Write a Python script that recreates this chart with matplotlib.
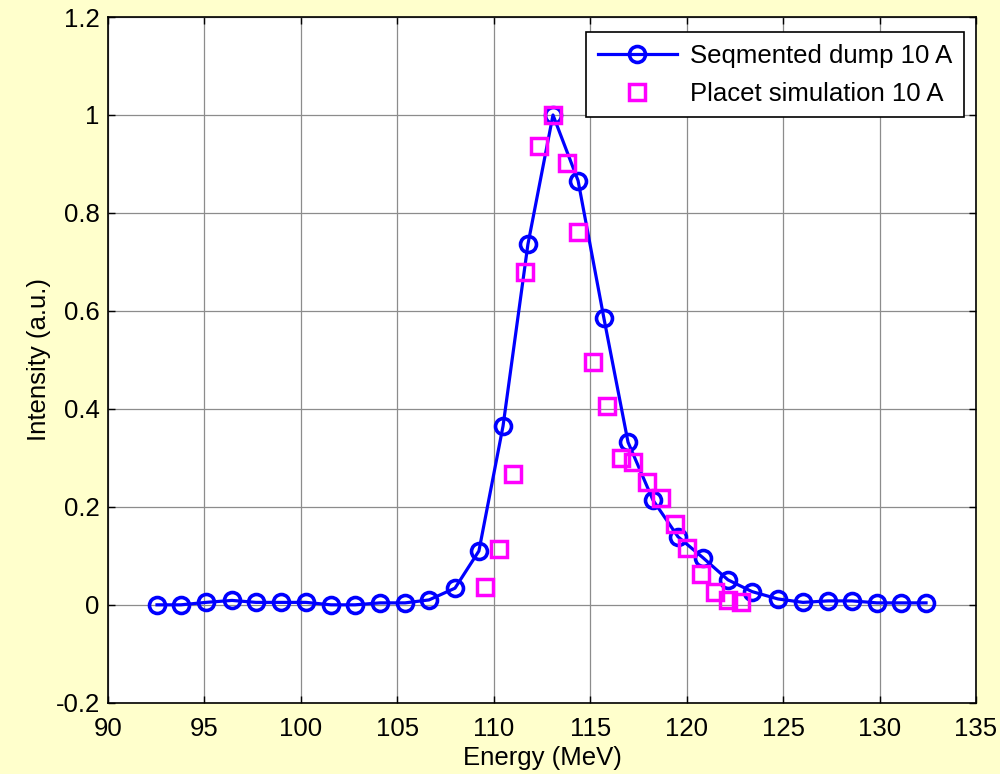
import matplotlib
matplotlib.use('Agg')
import matplotlib.pyplot as plt

plt.rcParams['font.family'] = ['Liberation Sans', 'DejaVu Sans']

# measured spectrum (segmented dump)
dump_energy = [92.54, 93.78, 95.08, 96.43, 97.67, 98.97, 100.26, 101.56, 102.80, 104.10,
               105.40, 106.64, 107.99, 109.23, 110.48, 111.77, 113.07, 114.37, 115.71, 116.96,
               118.25, 119.55, 120.85, 122.14, 123.39, 124.73, 126.03, 127.33, 128.57, 129.87,
               131.11, 132.41]
dump_intensity = [0.0, 0.0, 0.005, 0.009, 0.005, 0.005, 0.005, 0.0, 0.0, 0.004,
                  0.004, 0.01, 0.034, 0.11, 0.365, 0.736, 1.0, 0.866, 0.585, 0.332,
                  0.214, 0.139, 0.096, 0.051, 0.027, 0.012, 0.005, 0.008, 0.008, 0.004,
                  0.004, 0.004]

# simulated spectrum (Placet)
sim_energy = [109.54, 110.27, 111.0, 111.62, 112.34, 113.09, 113.78, 114.38, 115.13, 115.85,
              116.58, 117.2, 117.93, 118.65, 119.39, 120.0, 120.73, 121.47, 122.13, 122.8]
sim_intensity = [0.037, 0.114, 0.267, 0.68, 0.937, 1.0, 0.901, 0.762, 0.495, 0.406,
                 0.299, 0.292, 0.25, 0.218, 0.165, 0.116, 0.063, 0.026, 0.01, 0.005]

xticks = [90, 95, 100, 105, 110, 115, 120, 125, 130, 135]
yticks = [-0.2, 0, 0.2, 0.4, 0.6, 0.8, 1, 1.2]
ytick_labels = ['-0.2', '0', '0.2', '0.4', '0.6', '0.8', '1', '1.2']

bg = '#ffffcc'
fs = 18.5
fig = plt.figure(figsize=(10, 7.74), dpi=100, facecolor=bg)
ax = fig.add_axes([0.108, 0.092, 0.868, 0.886])

ax.plot(dump_energy, dump_intensity, '-o', color='#0000ff', lw=2.3, ms=11.5,
        mew=2.6, mfc='none', label='Seqmented dump 10 A', zorder=3)
ax.plot(sim_energy, sim_intensity, 's', color='#ff00ff', ms=11, mew=2.5,
        mfc='none', label='Placet simulation 10 A', zorder=4)

ax.set_xlim(90, 135)
ax.set_ylim(-0.2, 1.2)
ax.set_xticks(xticks)
ax.set_yticks(yticks)
ax.set_yticklabels(ytick_labels)
ax.grid(True, color='#8c8c8c', lw=0.9)
ax.set_axisbelow(True)
ax.tick_params(direction='in', top=True, right=True, length=5, width=1,
               labelsize=fs)
ax.tick_params(axis='x', pad=10)
ax.tick_params(axis='y', pad=6)
for s in ax.spines.values():
    s.set_linewidth(1.2)

ax.set_xlabel('Energy (MeV)', fontsize=fs, labelpad=4)
ax.set_ylabel('Intensity (a.u.)', fontsize=fs, labelpad=3)

# legend box sits a little inside the top-right corner
leg = ax.legend(loc='upper right', bbox_to_anchor=(0.986, 0.978), fontsize=fs,
                frameon=True, fancybox=False, edgecolor='black', framealpha=1,
                borderaxespad=0, handlelength=3.1, handletextpad=0.5,
                borderpad=0.45, labelspacing=0.55)
leg.get_frame().set_linewidth(1.2)

fig.savefig('out.png', dpi=100, facecolor=bg)
